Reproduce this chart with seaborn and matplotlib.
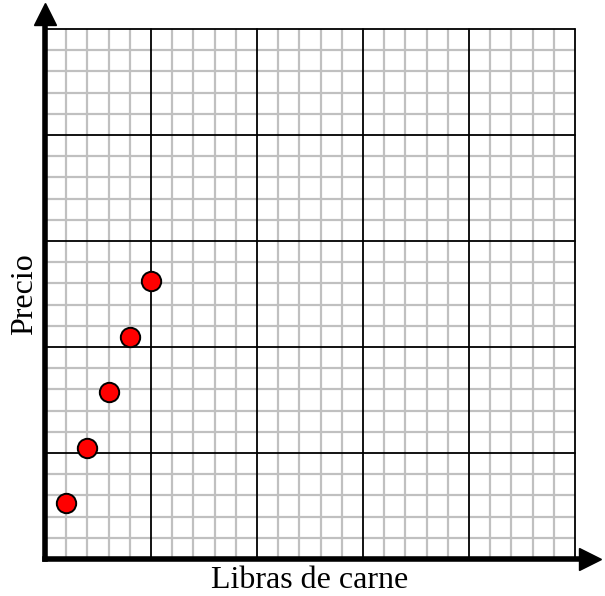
import numpy as np
import pandas as pd
import seaborn as sns
import matplotlib.pyplot as plt

# data (grid units, 25 x 25 cells)
libras = [1, 2, 3, 4, 5]
precio = [2.62, 5.24, 7.86, 10.48, 13.1]

df = pd.DataFrame({'Libras de carne': libras, 'Precio': precio})

sns.set_style('white')
plt.rcParams['font.family'] = ['Liberation Serif', 'DejaVu Serif']

fig = plt.figure(figsize=(6.05, 5.96), dpi=100)
ax = fig.add_axes([45 / 605, 37 / 596, 530 / 605, 530 / 596])

# grid: minor grey every unit, major black every 5 units
for v in range(26):
    if v % 5 == 0:
        continue
    ax.axvline(v, color='#c0c0c0', lw=1.6, zorder=1)
    ax.axhline(v, color='#c0c0c0', lw=1.6, zorder=1)
for v in range(5, 26, 5):
    ax.axvline(v, color='black', lw=1.3, zorder=2, clip_on=False)
    ax.axhline(v, color='black', lw=1.3, zorder=2, clip_on=False)

sns.scatterplot(data=df, x='Libras de carne', y='Precio', ax=ax, s=195,
                color='#ff0000', edgecolor='black', linewidth=1.4, zorder=5)

ax.set_xlim(0, 25)
ax.set_ylim(0, 25)
ax.set_xticks([])
ax.set_yticks([])
for side in ['top', 'right', 'left', 'bottom']:
    ax.spines[side].set_visible(False)

# thick axes with triangle heads
tip = 1.029
ax.plot([0, tip], [0, 0], color='black', lw=4, transform=ax.transAxes,
        clip_on=False, solid_capstyle='projecting', zorder=6)
ax.plot([0, 0], [0, tip], color='black', lw=4, transform=ax.transAxes,
        clip_on=False, solid_capstyle='projecting', zorder=6)
ax.plot([tip], [0], marker='>', ms=15.5, color='black', transform=ax.transAxes,
        clip_on=False, zorder=6)
ax.plot([0], [tip], marker='^', ms=15.5, color='black', transform=ax.transAxes,
        clip_on=False, zorder=6)

ax.set_xlabel('Libras de carne', fontsize=23, labelpad=5, color='black')
ax.set_ylabel('Precio', fontsize=23, labelpad=4, color='black')

fig.savefig('out.png', dpi=100)
